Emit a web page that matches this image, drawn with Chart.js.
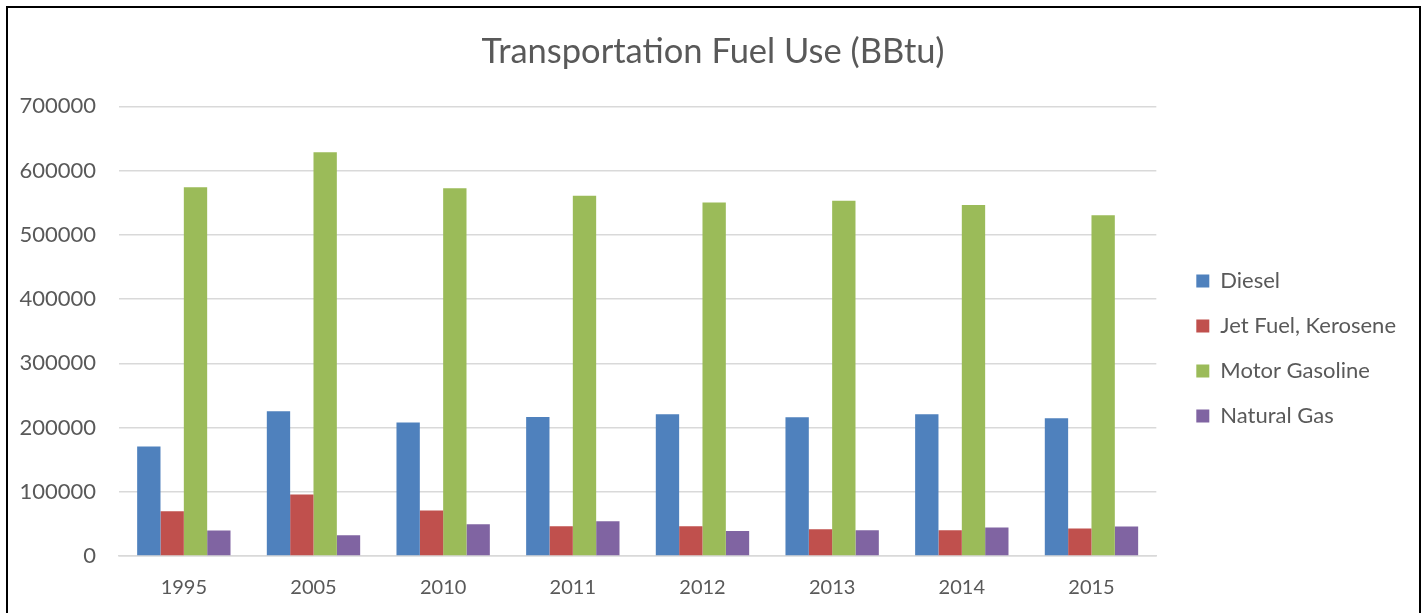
<!DOCTYPE html>
<html>
<head>
<meta charset="utf-8">
<title>Transportation Fuel Use (BBtu)</title>
<script src="https://cdn.jsdelivr.net/npm/chart.js@4.4.1/dist/chart.umd.min.js"></script>
<style>
  html, body { margin: 0; padding: 0; background: #fff; }
  #wrap { position: relative; width: 1426px; height: 613px; overflow: hidden; }
  #frame { position: absolute; left: 6px; top: 6px; width: 1411px; height: 700px; border: 2px solid #000; pointer-events: none; }
</style>
</head>
<body>
<div id="wrap">
  <canvas id="fuel-chart" width="1426" height="613"></canvas>
  <div id="frame"></div>
</div>
<script>
// data (BBtu)
var years = ['1995', '2005', '2010', '2011', '2012', '2013', '2014', '2015'];
var diesel = [170400, 225400, 207800, 216500, 220700, 216000, 220700, 214500];
var jetFuel = [69600, 95600, 70700, 46300, 46300, 41600, 40000, 42700];
var motorGasoline = [574300, 628800, 572700, 560700, 550500, 553000, 546300, 530700];
var naturalGas = [39600, 32200, 49400, 54000, 38900, 40000, 44200, 45800];
var seriesNames = ['Diesel', 'Jet Fuel, Kerosene', 'Motor Gasoline', 'Natural Gas'];
var yTicks = [0, 100000, 200000, 300000, 400000, 500000, 600000, 700000];

var textColor = '#595959';
var gridColor = '#d9d9d9';
var fontFamily = 'Lato, "Open Sans", sans-serif';

// legend width, so the plot ends where the reference plot ends
var legendPad = 23, boxW = 13, legendSize = 22;
var mctx = document.createElement('canvas').getContext('2d');
mctx.font = legendSize + 'px ' + fontFamily;
var widest = 0;
seriesNames.forEach(function (n) { widest = Math.max(widest, mctx.measureText(n).width); });
var legendWidth = legendPad + boxW + legendSize / 2 + widest + 10;
var sidePad = Math.max(0, Math.round(1426 - 1156 - legendWidth));

// move legend and title to where Excel puts them
var nudge = {
    id: 'nudge',
    afterLayout: function (chart) {
        var lg = chart.legend;
        lg.left += 17; lg.right += 17;
        lg.top += 42; lg.bottom += 42;
        var t = chart.titleBlock;
        t.left += sidePad / 2; t.right += sidePad / 2;
    }
};

var ctx = document.getElementById('fuel-chart').getContext('2d');
var chart = new Chart(ctx, {
    type: 'bar',
    data: {
        labels: years,
        datasets: [
            { label: seriesNames[0], data: diesel, backgroundColor: '#4f81bd' },
            { label: seriesNames[1], data: jetFuel, backgroundColor: '#c0504d' },
            { label: seriesNames[2], data: motorGasoline, backgroundColor: '#9bbb59' },
            { label: seriesNames[3], data: naturalGas, backgroundColor: '#8064a2' }
        ]
    },
    options: {
        responsive: false,
        animation: false,
        devicePixelRatio: 1,
        datasets: {
            bar: { categoryPercentage: 0.72, barPercentage: 1.0, borderWidth: 0 }
        },
        layout: { padding: { left: 0, right: sidePad, top: 0, bottom: 0 } },
        plugins: {
            title: {
                display: true,
                text: 'Transportation Fuel Use (BBtu)',
                color: textColor,
                font: { family: fontFamily, size: 34.5, weight: 'normal' },
                padding: { top: 31, bottom: 34 }
            },
            legend: {
                position: 'right',
                labels: {
                    boxWidth: boxW,
                    boxHeight: 13,
                    padding: legendPad,
                    color: textColor,
                    font: { family: fontFamily, size: legendSize }
                }
            },
            tooltip: { enabled: false }
        },
        scales: {
            x: {
                grid: { display: false },
                border: { display: true, color: gridColor, width: 1.5 },
                ticks: { color: textColor, font: { family: fontFamily, size: 20 }, padding: 12 },
                afterFit: function (scale) { scale.height = 57; }
            },
            y: {
                min: 0,
                max: 700000,
                afterBuildTicks: function (scale) {
                    scale.ticks = yTicks.map(function (v) { return { value: v }; });
                },
                grid: { color: gridColor, lineWidth: 1.5, drawTicks: false },
                border: { display: false },
                ticks: {
                    color: textColor,
                    font: { family: fontFamily, size: 22 },
                    padding: 23,
                    callback: function (v) { return String(v); }
                },
                afterFit: function (scale) { scale.width = 119; }
            }
        }
    },
    plugins: [nudge]
});
</script>
</body>
</html>
